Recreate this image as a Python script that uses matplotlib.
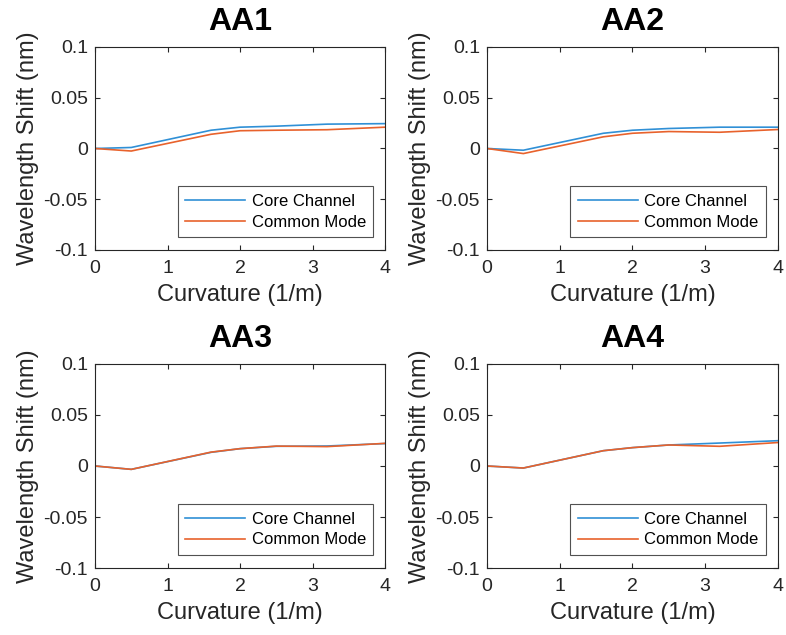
import matplotlib
matplotlib.use("Agg")
import matplotlib.pyplot as plt

plt.rcParams['font.family'] = ['Liberation Sans', 'DejaVu Sans']

# curvature sample points (1/m)
curvature = [0, 0.5, 1.6, 2, 2.5, 3.2, 4]

titles = ['AA1', 'AA2', 'AA3', 'AA4']

# wavelength shift (nm)
core_aa1 = [0, 0.001, 0.018, 0.021, 0.022, 0.024, 0.0245]
common_aa1 = [0, -0.0025, 0.014, 0.0175, 0.018, 0.0185, 0.021]

core_aa2 = [0, -0.0017, 0.015, 0.018, 0.0197, 0.021, 0.021]
common_aa2 = [0, -0.005, 0.0115, 0.015, 0.0167, 0.016, 0.0187]

core_aa3 = [0, -0.0033, 0.0134, 0.017, 0.0193, 0.0196, 0.022]
common_aa3 = [0, -0.0033, 0.0136, 0.017, 0.0195, 0.019, 0.0222]

core_aa4 = [0, -0.002, 0.015, 0.018, 0.0206, 0.0225, 0.0248]
common_aa4 = [0, -0.002, 0.015, 0.018, 0.0206, 0.0193, 0.023]

core = [core_aa1, core_aa2, core_aa3, core_aa4]
common = [common_aa1, common_aa2, common_aa3, common_aa4]

blue = '#3090D6'
orange = '#E8622C'
dark = '#262626'

fig = plt.figure(figsize=(7.86, 6.35), dpi=100)

positions = [
    [0.1209, 0.6063, 0.369, 0.3197],
    [0.6196, 0.6063, 0.370, 0.3197],
    [0.1209, 0.1055, 0.369, 0.3213],
    [0.6196, 0.1055, 0.370, 0.3213],
]

for i in range(4):
    ax = fig.add_axes(positions[i])
    ax.plot(curvature, core[i], color=blue, lw=1.2, label='Core Channel')
    ax.plot(curvature, common[i], color=orange, lw=1.2, label='Common Mode')
    ax.set_xlim(0, 4)
    ax.set_ylim(-0.1, 0.1)
    ax.set_xticks([0, 1, 2, 3, 4])
    ax.set_yticks([-0.1, -0.05, 0, 0.05, 0.1])
    ax.set_yticklabels(['-0.1', '-0.05', '0', '0.05', '0.1'])
    ax.tick_params(direction='in', top=True, right=True, length=3.5,
                   width=0.8, labelsize=14, colors=dark)
    ax.tick_params(axis='x', pad=7)
    ax.tick_params(axis='y', pad=5)
    for s in ax.spines.values():
        s.set_color(dark)
        s.set_linewidth(0.8)
    ax.set_title(titles[i], fontsize=23, fontweight='bold', pad=12)
    ax.set_xlabel('Curvature (1/m)', fontsize=17, color=dark, labelpad=5)
    ax.set_ylabel('Wavelength Shift (nm)', fontsize=17, color=dark, labelpad=3)
    leg = ax.legend(loc='lower right', bbox_to_anchor=(0.96, 0.064),
                    borderaxespad=0, fontsize=12, frameon=True, fancybox=False,
                    handlelength=3.6, handletextpad=0.4, borderpad=0.45,
                    labelspacing=0.35)
    leg.get_frame().set_edgecolor(dark)
    leg.get_frame().set_linewidth(0.8)

fig.savefig('out.png', dpi=100)
